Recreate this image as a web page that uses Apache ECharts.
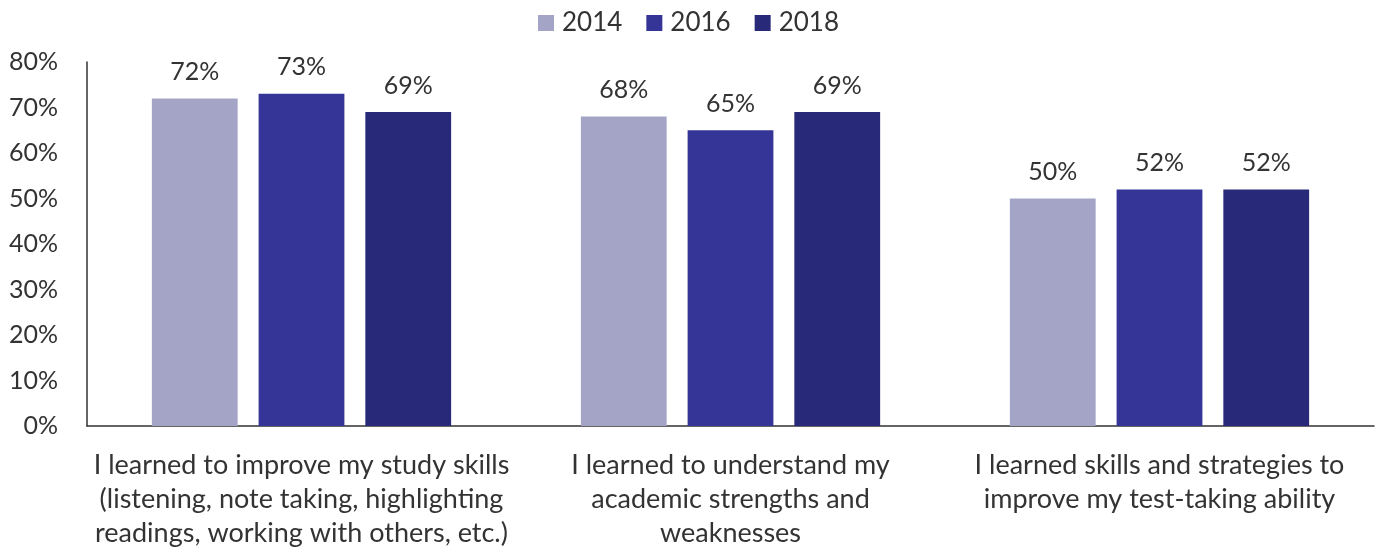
<!DOCTYPE html>
<html>
<head>
<meta charset="utf-8">
<script src="https://cdn.jsdelivr.net/npm/echarts@6/dist/echarts.min.js"></script>
<style>
  html, body { margin: 0; padding: 0; background: #fff; }
  #chart { width: 1377px; height: 550px; }
</style>
</head>
<body>
<div id="chart"></div>
<script>
// Survey statements shown along the x axis
const categories = [
  'I learned to improve my study skills\n(listening, note taking, highlighting\nreadings, working with others, etc.)',
  'I learned to understand my\nacademic strengths and\nweaknesses',
  'I learned skills and strategies to\nimprove my test-taking ability'
];
// Share of students agreeing, by survey year (percent)
const years = ['2014', '2016', '2018'];
const values2014 = [72, 68, 50];
const values2016 = [73, 65, 52];
const values2018 = [69, 69, 52];
const yTicks = [0, 10, 20, 30, 40, 50, 60, 70, 80];

const colors = ['#a4a5c6', '#353597', '#29297a'];
const fontFamily = 'Lato, "Open Sans", sans-serif';
const textColor = '#333333';

const seriesData = [values2014, values2016, values2018];

const chart = echarts.init(document.getElementById('chart'));
chart.setOption({
  animation: false,
  textStyle: { fontFamily: fontFamily },
  legend: {
    top: 5,
    left: 'center',
    itemWidth: 16,
    itemHeight: 16,
    itemGap: 24,
    icon: 'rect',
    textStyle: { fontSize: 26, color: textColor, fontFamily: fontFamily, padding: [0, 0, 0, 3] },
    data: years
  },
  grid: { left: 87, right: 3, top: 62, bottom: 123, containLabel: false },
  xAxis: {
    type: 'category',
    data: categories,
    axisLine: { lineStyle: { color: '#333333', width: 1.5 } },
    axisTick: { show: false },
    axisLabel: {
      interval: 0,
      fontSize: 27,
      lineHeight: 34,
      color: textColor,
      margin: 22,
      fontFamily: fontFamily
    }
  },
  yAxis: {
    type: 'value',
    min: yTicks[0],
    max: yTicks[yTicks.length - 1],
    interval: 10,
    axisLine: { show: true, lineStyle: { color: '#333333', width: 1.5 } },
    axisTick: { show: false },
    splitLine: { show: false },
    axisLabel: {
      fontSize: 25,
      color: textColor,
      margin: 29,
      fontFamily: fontFamily,
      formatter: v => v + '%'
    }
  },
  series: years.map((y, i) => ({
    name: y,
    type: 'bar',
    data: seriesData[i],
    barWidth: '20%',
    barGap: '24.4%',
    itemStyle: { color: colors[i] },
    label: {
      show: true,
      position: 'top',
      distance: 14,
      fontSize: 25,
      color: textColor,
      fontFamily: fontFamily,
      formatter: p => p.value + '%'
    }
  }))
});
</script>
</body>
</html>
